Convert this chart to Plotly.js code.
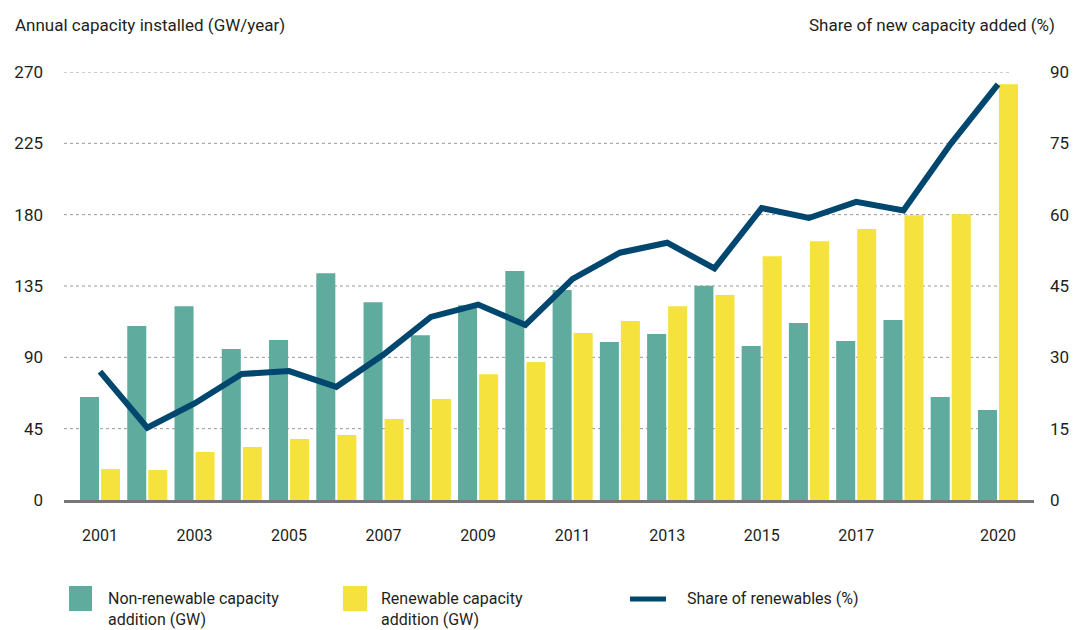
<!DOCTYPE html>
<html>
<head>
<meta charset="utf-8">
<script src="https://cdn.plot.ly/plotly-3.0.1.min.js"></script>
<style>
  html, body { margin: 0; padding: 0; background: #fff; }
  #gd { width: 1073px; height: 630px; }
</style>
</head>
<body>
<div id="gd"></div>
<script>
// values
const years = ['2001', '2002', '2003', '2004', '2005', '2006', '2007', '2008', '2009', '2010',
               '2011', '2012', '2013', '2014', '2015', '2016', '2017', '2018', '2019', '2020'];
const nonRenewable = [64.9, 109.7, 122.3, 95.2, 100.9, 143.1, 124.8, 104.0, 122.9, 144.4,
                      132.4, 99.6, 104.7, 135.1, 97.1, 111.6, 100.3, 113.5, 64.9, 56.7];
const renewable = [19.5, 18.9, 30.3, 33.4, 38.5, 41.0, 51.1, 63.7, 79.4, 87.0,
                   105.3, 112.9, 122.3, 129.3, 153.8, 163.3, 170.9, 179.7, 180.3, 262.3];
const renewableShare = [27.0, 15.2, 20.3, 26.5, 27.1, 23.8, 30.6, 38.5, 41.1, 36.8,
                        46.5, 52.0, 54.1, 48.7, 61.4, 59.3, 62.7, 60.9, 74.9, 87.4];
const tickYears = ['2001', '2003', '2005', '2007', '2009', '2011', '2013', '2015', '2017', '2020'];
const leftTicks = [0, 45, 90, 135, 180, 225, 270];
const rightTicks = [0, 15, 30, 45, 60, 75, 90];

const seriesNames = ['Non-renewable capacity<br>addition (GW)', 'Renewable capacity<br>addition (GW)', 'Share of renewables (%)'];

const TEAL = '#5FAB9E';
const YELLOW = '#F5E23D';
const NAVY = '#00476F';
const TEXT = '#231f20';
const FONT = 'Roboto, Arial, sans-serif';

const data = [
  {
    x: years, y: nonRenewable, type: 'bar', name: seriesNames[0],
    marker: { color: TEAL }, hoverinfo: 'x+y'
  },
  {
    x: years, y: renewable, type: 'bar', name: seriesNames[1],
    marker: { color: YELLOW }, hoverinfo: 'x+y'
  },
  {
    x: years, y: renewableShare, type: 'scatter', mode: 'lines', name: seriesNames[2],
    yaxis: 'y2', line: { color: NAVY, width: 6 }
  }
];

// dotted gridlines stop short of the right edge, like in the original
const gridShapes = leftTicks.filter((v) => v > 0).map((v) => ({
  type: 'line', xref: 'paper', yref: 'y', x0: 0, x1: 0.975, y0: v, y1: v,
  layer: 'below', line: { color: '#999', width: 1, dash: 'dot' }
}));

// hand-made legend below the plot (paper coordinates)
const legendShapes = [
  { type: 'rect', xref: 'paper', yref: 'paper', x0: 0.0052, x1: 0.0289, y0: -0.2593, y1: -0.2009,
    fillcolor: TEAL, line: { width: 0 } },
  { type: 'rect', xref: 'paper', yref: 'paper', x0: 0.2876, x1: 0.3124, y0: -0.2593, y1: -0.2009,
    fillcolor: YELLOW, line: { width: 0 } },
  { type: 'line', xref: 'paper', yref: 'paper', x0: 0.5835, x1: 0.6206, y0: -0.2313, y1: -0.2313,
    line: { color: NAVY, width: 5 } }
];

const legendText = [
  { x: 0.0433, y: -0.2547, text: seriesNames[0] },
  { x: 0.3247, y: -0.2547, text: seriesNames[1] },
  { x: 0.6402, y: -0.2313, text: seriesNames[2] }
].map((a) => ({
  xref: 'paper', yref: 'paper', x: a.x, y: a.y, text: a.text,
  xanchor: 'left', yanchor: 'middle', align: 'left', showarrow: false,
  font: { family: FONT, size: 16, color: TEXT }
}));

const layout = {
  width: 1073,
  height: 630,
  margin: { l: 64, r: 39, t: 72, b: 130 },
  paper_bgcolor: '#fff',
  plot_bgcolor: '#fff',
  font: { family: FONT, color: TEXT },
  showlegend: false,
  barmode: 'group',
  bargap: 0.11,
  bargroupgap: 0.095,
  xaxis: {
    type: 'category',
    range: [-0.762, 19.762],
    tickmode: 'array',
    tickvals: tickYears,
    ticktext: tickYears,
    ticks: '',
    showgrid: false,
    showline: true,
    linecolor: '#777',
    linewidth: 3,
    zeroline: false,
    ticklabelstandoff: 19,
    tickfont: { family: FONT, size: 16, color: TEXT },
    fixedrange: true
  },
  yaxis: {
    range: [0, 270],
    tickmode: 'array',
    tickvals: leftTicks,
    ticks: '',
    showgrid: false,
    zeroline: false,
    showline: false,
    ticklabelstandoff: 20,
    tickfont: { family: FONT, size: 17, color: TEXT },
    fixedrange: true
  },
  yaxis2: {
    overlaying: 'y',
    side: 'right',
    range: [0, 90],
    tickmode: 'array',
    tickvals: rightTicks,
    ticks: '',
    showgrid: false,
    zeroline: false,
    showline: false,
    ticklabelstandoff: 15,
    tickfont: { family: FONT, size: 17, color: TEXT },
    fixedrange: true
  },
  shapes: gridShapes.concat(legendShapes),
  annotations: [
    {
      xref: 'paper', yref: 'paper', x: -0.0526, y: 1.11, xanchor: 'left', yanchor: 'middle',
      text: 'Annual capacity installed (GW/year)', showarrow: false,
      font: { family: FONT, size: 17, color: TEXT }
    },
    {
      xref: 'paper', yref: 'paper', x: 1.0237, y: 1.11, xanchor: 'right', yanchor: 'middle',
      text: 'Share of new capacity added (%)', showarrow: false,
      font: { family: FONT, size: 17, color: TEXT }
    }
  ].concat(legendText)
};

Plotly.newPlot('gd', data, layout, { displayModeBar: false, responsive: false });
</script>
</body>
</html>
